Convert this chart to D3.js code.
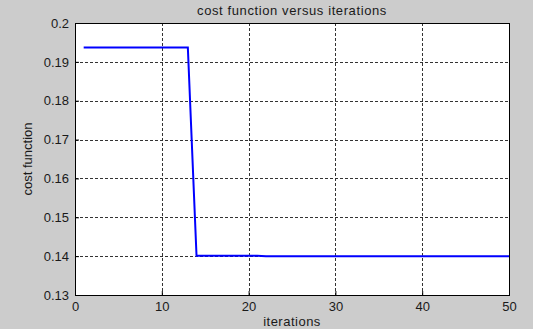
<!DOCTYPE html>
<html lang="en">
<head>
<meta charset="UTF-8">
<title>cost function versus iterations</title>
<script src="https://cdnjs.cloudflare.com/ajax/libs/d3/7.8.5/d3.min.js"></script>
<style>
    body { margin: 0; background: #cccccc; }
    svg { display: block; font-family: 'Liberation Sans', Arial, sans-serif; }
    .tick text { font-size: 13px; fill: #1a1a1a; }
    .grid line { stroke: #333; stroke-dasharray: 3,2; stroke-width: 1; }
    .lbl { font-size: 13px; fill: #1a1a1a; }
</style>
</head>
<body>
<div id="chart"></div>
<script>
    // iterations 1..50
    const iterations = [
        1, 2, 3, 4, 5, 6, 7, 8, 9, 10,
        11, 12, 13, 14, 15, 16, 17, 18, 19, 20,
        21, 22, 23, 24, 25, 26, 27, 28, 29, 30,
        31, 32, 33, 34, 35, 36, 37, 38, 39, 40,
        41, 42, 43, 44, 45, 46, 47, 48, 49, 50
    ];
    const cost = [
        0.1937, 0.1937, 0.1937, 0.1937, 0.1937, 0.1937, 0.1937, 0.1937, 0.1937, 0.1937,
        0.1937, 0.1937, 0.1937, 0.1401, 0.1401, 0.1401, 0.1401, 0.1401, 0.1401, 0.1401,
        0.1401, 0.1400, 0.1400, 0.1400, 0.1400, 0.1400, 0.1400, 0.1400, 0.1400, 0.1400,
        0.1400, 0.1400, 0.1400, 0.1400, 0.1400, 0.1400, 0.1400, 0.1400, 0.1400, 0.1400,
        0.1400, 0.1400, 0.1400, 0.1400, 0.1400, 0.1400, 0.1400, 0.1400, 0.1400, 0.1400
    ];
    const xTicks = [0, 10, 20, 30, 40, 50];
    const yTicks = [0.13, 0.14, 0.15, 0.16, 0.17, 0.18, 0.19, 0.2];

    const W = 533, H = 329;
    const m = { top: 23, right: 24, bottom: 34, left: 75 };
    const iw = W - m.left - m.right, ih = H - m.top - m.bottom;

    const svg = d3.select("#chart").append("svg")
        .attr("width", W).attr("height", H);

    svg.append("rect").attr("width", W).attr("height", H).attr("fill", "#cccccc");

    const g = svg.append("g").attr("transform", `translate(${m.left},${m.top})`);

    const x = d3.scaleLinear().domain([0, 50]).range([0, iw]);
    const y = d3.scaleLinear().domain([0.13, 0.2]).range([ih, 0]);

    g.append("rect").attr("width", iw).attr("height", ih).attr("fill", "#fff");

    // grid
    g.append("g").attr("class", "grid")
        .selectAll("line").data(xTicks.slice(1, -1)).join("line")
        .attr("x1", d => Math.round(x(d)) + 0.5).attr("x2", d => Math.round(x(d)) + 0.5)
        .attr("y1", 0).attr("y2", ih);
    g.append("g").attr("class", "grid")
        .selectAll("line").data(yTicks.slice(1, -1)).join("line")
        .attr("y1", d => Math.round(y(d)) + 0.5).attr("y2", d => Math.round(y(d)) + 0.5)
        .attr("x1", 0).attr("x2", iw);

    // axes (ticks pointing inward)
    const xAxis = g.append("g").attr("transform", `translate(0,${ih})`)
        .call(d3.axisBottom(x).tickValues(xTicks).tickSize(-4).tickPadding(7).tickFormat(d3.format("d")));
    const yAxis = g.append("g")
        .call(d3.axisLeft(y).tickValues(yTicks).tickSize(-4).tickPadding(6).tickFormat(d => d3.format("")(+d.toFixed(2))));
    [xAxis, yAxis].forEach(a => {
        a.select(".domain").remove();
        a.selectAll(".tick line").attr("stroke", "#000");
    });

    // box
    g.append("rect").attr("x", 0.5).attr("y", 0.5).attr("width", iw).attr("height", ih)
        .attr("fill", "none").attr("stroke", "#000").attr("stroke-width", 1);

    // series
    const line = d3.line().x((d, i) => x(iterations[i])).y(d => y(d));
    g.append("path").datum(cost)
        .attr("fill", "none").attr("stroke", "#0000ff").attr("stroke-width", 2)
        .attr("d", line);

    // labels
    svg.append("text").attr("class", "lbl").attr("x", m.left + iw / 2).attr("y", 15)
        .attr("text-anchor", "middle").attr("letter-spacing", 0.6)
        .text("cost function versus iterations");
    svg.append("text").attr("class", "lbl").attr("x", m.left + iw / 2).attr("y", 326)
        .attr("text-anchor", "middle").attr("letter-spacing", 0.5)
        .text("iterations");
    svg.append("text").attr("class", "lbl")
        .attr("transform", `translate(32,${m.top + ih / 2}) rotate(-90)`)
        .attr("text-anchor", "middle")
        .text("cost function");
</script>
</body>
</html>
